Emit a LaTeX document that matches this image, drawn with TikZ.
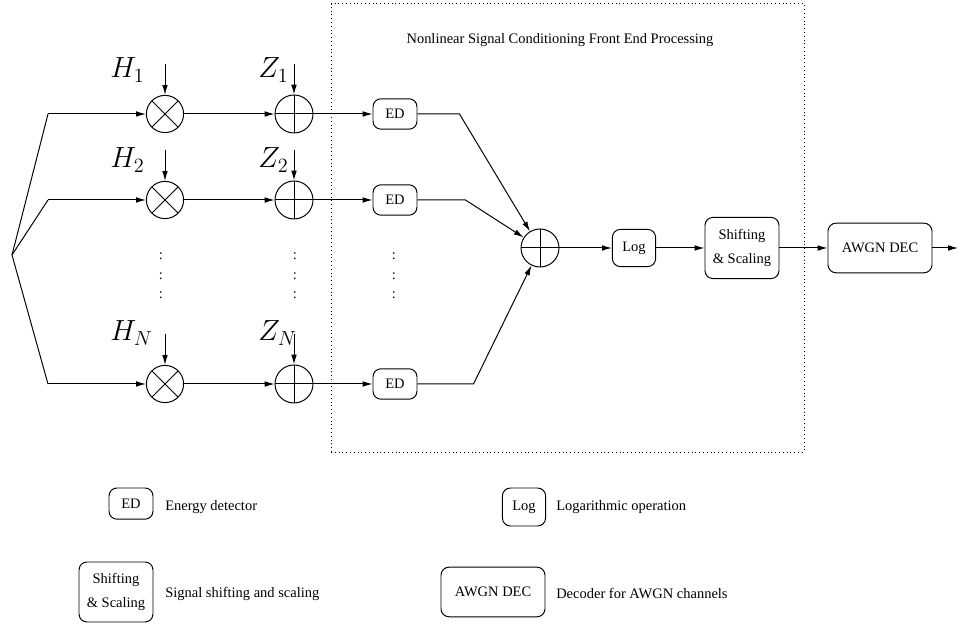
\documentclass[tikz,border=0pt]{standalone}
\usepackage{fontspec}
\setmainfont{Liberation Serif}
\usetikzlibrary{arrows.meta,positioning,calc}

\tikzset{
	sig/.style = {-{Latex[length=7pt,width=4pt]}, line width=0.7pt},
	blk/.style = {draw, line width=0.7pt, rounded corners=0.2cm, align=center, inner sep=0pt,
		font=\fontsize{10.3}{17}\selectfont},
	edbox/.style = {blk, minimum width=1.1cm, minimum height=0.76cm},
	logbox/.style = {blk, minimum width=1.08cm, minimum height=0.93cm},
	shbox/.style = {blk, minimum width=1.85cm, minimum height=1.53cm},
	decbox/.style = {blk, minimum width=2.6cm, minimum height=1.24cm},
	txt/.style = {font=\fontsize{10.3}{12.5}\selectfont, inner sep=0pt},
	lbl/.style = {font=\fontsize{20}{24}\selectfont, inner sep=0pt, anchor=base west},
	mul/.style = {draw, line width=0.7pt, circle, minimum size=0.93cm, inner sep=0pt,
		path picture={\draw[line width=0.7pt] (path picture bounding box.north west) -- (path picture bounding box.south east)
			(path picture bounding box.north east) -- (path picture bounding box.south west);}},
	add/.style = {draw, line width=0.7pt, circle, minimum size=0.95cm, inner sep=0pt,
		path picture={\draw[line width=0.7pt] (path picture bounding box.north) -- (path picture bounding box.south)
			(path picture bounding box.west) -- (path picture bounding box.east);}},
	vdot/.style = {font=\fontsize{10.3}{14}\selectfont, inner sep=0pt, align=center}
}

\begin{document}
\begin{tikzpicture}
	\useasboundingbox (0,0) rectangle (23.975,15.65);
	% front end box
	\draw[dotted, line width=0.7pt] (8.275,4.35) rectangle (20.1,15.55);
	\node[txt] (title) at (14,14.65) {Nonlinear Signal Conditioning Front End Processing};
	%splitter
	\coordinate (src) at (0.3,9.275);
	\coordinate (fan) at (1.2,0);
	%branch 1
	\node[mul] (m1) at (4.125,12.8) {};
	\node[add] (a1) at (7.35,12.8) {};
	\node[edbox] (ed1) at (9.875,12.8) {ED};
	\node[lbl] (h1) at (2.75,13.7) {$H_1$};
	\node[lbl] (z1) at (6.45,13.7) {$Z_1$};
	\draw[line width=0.7pt] (src) -- (m1 -| fan);
	\draw[sig] (m1 -| fan) -- (m1);
	\draw[sig] ([yshift=0.76cm]m1.north) -- (m1.north);
	\draw[sig] ([yshift=0.76cm]a1.north) -- (a1.north);
	\draw[sig] (m1) -- (a1);
	\draw[sig] (a1.east) -- (ed1);
	%branch 2
	\node[mul] (m2) at (4.125,10.65) {};
	\node[add] (a2) at (7.35,10.65) {};
	\node[edbox] (ed2) at (9.875,10.65) {ED};
	\node[lbl] (h2) at (2.75,11.45) {$H_2$};
	\node[lbl] (z2) at (6.45,11.45) {$Z_2$};
	\draw[line width=0.7pt] (src) -- (m2 -| fan);
	\draw[sig] (m2 -| fan) -- (m2);
	\draw[sig] ([yshift=0.76cm]m2.north) -- (m2.north);
	\draw[sig] ([yshift=0.76cm]a2.north) -- (a2.north);
	\draw[sig] (m2) -- (a2);
	\draw[sig] (a2.east) -- (ed2);
	%branch N
	\node[mul] (mN) at (4.125,6.05) {};
	\node[add] (aN) at (7.35,6.05) {};
	\node[edbox] (edN) at (9.875,6.05) {ED};
	\node[lbl] (hN) at (2.75,7.125) {$H_N$};
	\node[lbl] (zN) at (6.45,7.125) {$Z_N$};
	\draw[line width=0.7pt] (src) -- (mN -| fan);
	\draw[sig] (mN -| fan) -- (mN);
	\draw[sig] ([yshift=0.76cm]mN.north) -- (mN.north);
	\draw[sig] ([yshift=0.76cm]aN.north) -- (aN.north);
	\draw[sig] (mN) -- (aN);
	\draw[sig] (aN.east) -- (edN);
	%dots
	\node[vdot] (d1) at (4.025,8.75) {:\\:\\:};
	\node[vdot] (d2) at (7.375,8.75) {:\\:\\:};
	\node[vdot] (d3) at (9.85,8.75) {:\\:\\:};
	%combining and output chain
	\node[add] (sum) at (13.5,9.45) {};
	\node[logbox] (log) at (15.85,9.45) {Log};
	\node[shbox] (shift) at (18.55,9.45) {Shifting\\\& Scaling};
	\node[decbox] (dec) at (22,9.45) {AWGN DEC};
	\coordinate (out) at (23.95,9.45);
	\draw[sig] (ed1.east) -- ++(1.05,0) -- (sum);
	\draw[sig] (ed2.east) -- ++(1.2,0) -- (sum);
	\draw[sig] (edN.east) -- ++(1.4,0) -- (sum);
	\draw[sig] (sum) -- (log);
	\draw[sig] (log) -- (shift);
	\draw[sig] (shift) -- (dec);
	\draw[sig] (dec) -- (out);
	%legend
	\node[edbox, minimum height=0.78cm] (led) at (3.275,3.06) {ED};
	\node[txt, anchor=west] (ted) at (4.125,2.98) {Energy detector};
	\node[logbox, minimum height=0.95cm] (llog) at (13.1,2.975) {Log};
	\node[txt, anchor=west] (tlog) at (13.9,2.98) {Logarithmic operation};
	\node[shbox, minimum height=1.5cm] (lsh) at (2.9,0.85) {Shifting\\\& Scaling};
	\node[txt, anchor=west] (tsh) at (4.125,0.8) {Signal shifting and scaling};
	\node[decbox] (ldec) at (12.325,0.85) {AWGN DEC};
	\node[txt, anchor=west] (tdec) at (13.9,0.8) {Decoder for AWGN channels};
\end{tikzpicture}
\end{document}
